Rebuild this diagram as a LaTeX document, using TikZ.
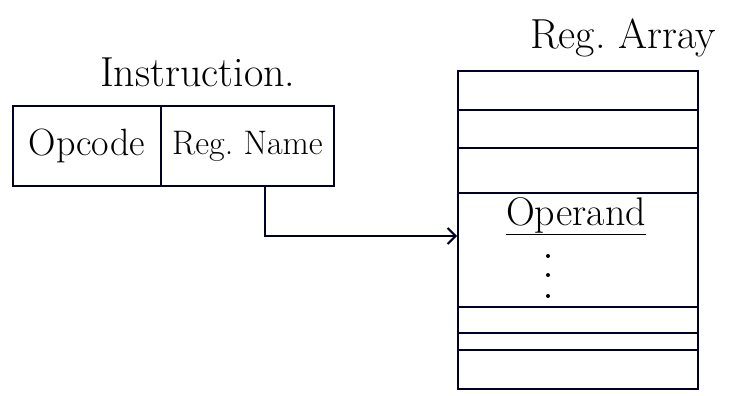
\documentclass[tikz,border=0pt]{standalone}
\usetikzlibrary{arrows.meta}
\begin{document}
\begin{tikzpicture}[x=1pt,y=-1pt,
  ink/.style={draw=black!85!blue, line width=2pt},
  cell/.style={ink, minimum height=80pt, inner sep=0pt},
  lbl/.style={font=\fontsize{42}{46}\selectfont, inner sep=0pt},
  conn/.style={ink, -{Straight Barb[length=8pt,width=16pt]}}]
\useasboundingbox (0,0) rectangle (745,396);
\fill[white] (0,0) rectangle (745,396);
% titles
\node[lbl, anchor=west] (title) at (100,72) {Instruction.};
\node[lbl, anchor=west] (arrtitle) at (530,38) {Reg.\ Array};
% instruction
\node[cell, minimum width=148pt, anchor=north west, font=\fontsize{38}{42}\selectfont] (opcode) at (12,105) {Opcode};
\node[cell, minimum width=173pt, anchor=north west, font=\fontsize{34}{38}\selectfont] (regname) at (160,105) {Reg.\ Name};
% register array
\node[ink, minimum width=240pt, minimum height=318pt, anchor=north west, inner sep=0pt] (array) at (457,70) {};
\foreach \y in {110,148,193,307,333,350}
  \draw[ink] (array.west |- 0,\y) -- (array.east |- 0,\y);
\node[font=\fontsize{40}{44}\selectfont, inner sep=0pt] (operand) at (576,216) {\underline{Operand}};
\foreach \y in {256,275,296}
  \fill[black] (548,\y) circle (2pt);
% connector
\coordinate (turn) at (265,236);
\draw[conn] (regname.south -| turn) |- (array.west |- turn);
\end{tikzpicture}
\end{document}
